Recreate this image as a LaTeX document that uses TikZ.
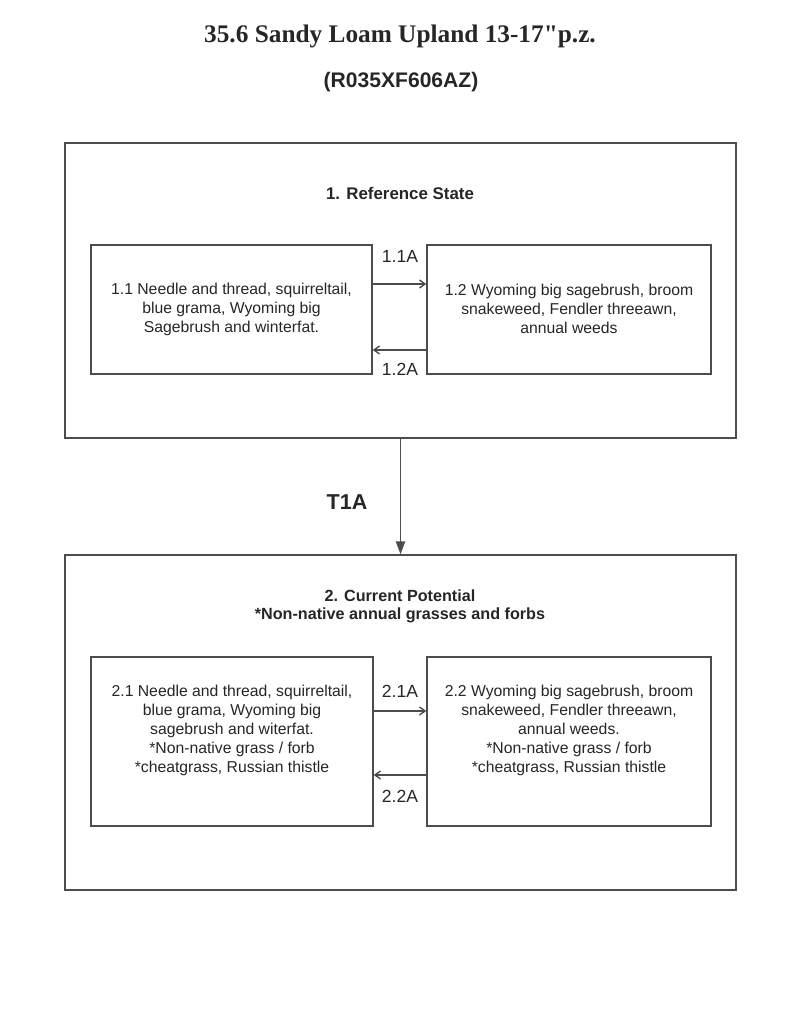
\documentclass[tikz,border=0pt]{standalone}
\usepackage{fontspec}
\setmainfont{Liberation Sans}
\newfontfamily\timesfont{Liberation Serif}
\usetikzlibrary{positioning,arrows.meta}

\begin{document}
\begin{tikzpicture}[x=0.025cm,y=0.025cm,line width=1pt,draw=black!70,text=black!85,
                    phase/.style={rectangle,draw=black!70,minimum width=16.775cm,inner sep=0pt},
                    statebox/.style={rectangle,draw=black!70,minimum height=3.225cm,inner sep=0pt},
                    boxtext/.style={align=center,font=\fontsize{11.2}{13.5}\selectfont},
                    arrowlabel/.style={font=\fontsize{12.5}{14}\selectfont},
                    pathway/.style={-{Straight Barb[length=1.4mm,width=2mm]}},
                    transition/.style={-{Triangle[length=3.2mm,width=2.3mm]}}]
    \useasboundingbox (0,0) rectangle (800,1019);
    \node (title) at (400,983) {\timesfont\bfseries\fontsize{18}{21}\selectfont 35.6 Sandy Loam Upland 13-17"p.z.};
    \node (code) at (401,937) {\bfseries\fontsize{15}{17}\selectfont (R035XF606AZ)};
    % reference state
    \node (ref) at (400.5,728.5) [phase,minimum height=7.375cm] {};
    \node (refname) at (400,826) [font=\bfseries\fontsize{12}{14}\selectfont] {1. Reference State};
    \node (s11) at (231.5,709.5) [statebox,minimum width=7.025cm] {};
    \node (s12) at (569,709.5) [statebox,minimum width=7.1cm] {};
    \node (t11) at (231.5,710) [boxtext] {1.1 Needle and thread, squirreltail,\\ blue grama, Wyoming big\\ Sagebrush and winterfat.};
    \node (t12) at (569,710) [boxtext] {1.2 Wyoming big sagebrush, broom\\ snakeweed, Fendler threeawn,\\ annual weeds};
    \draw [pathway] (s11.east |- 0,735) to (s12.west |- 0,735);
    \draw [pathway] (s12.west |- 0,669) to (s11.east |- 0,669);
    \node (l11a) at (400,763) [arrowlabel] {1.1A};
    \node (l12a) at (400,650) [arrowlabel] {1.2A};
    % current potential
    \node (cur) at (400.5,296.5) [phase,minimum height=8.375cm] {};
    \node (curname) at (400,413) [align=center,font=\bfseries\fontsize{11.5}{13}\selectfont] {2. Current Potential\\ *Non-native annual grasses and forbs};
    \node (s21) at (232,277.5) [statebox,minimum width=7.05cm,minimum height=4.225cm] {};
    \node (s22) at (569,277.5) [statebox,minimum width=7.1cm,minimum height=4.225cm] {};
    \node (t21) at (232,289) [boxtext] {2.1 Needle and thread, squirreltail,\\ blue grama, Wyoming big\\ sagebrush and witerfat.\\ *Non-native grass / forb\\ *cheatgrass, Russian thistle};
    \node (t22) at (569,289) [boxtext] {2.2 Wyoming big sagebrush, broom\\ snakeweed, Fendler threeawn,\\ annual weeds.\\ *Non-native grass / forb\\ *cheatgrass, Russian thistle};
    \draw [pathway] (s21.east |- 0,308) to (s22.west |- 0,308);
    \draw [pathway] (s22.west |- 0,244) to (s21.east |- 0,244);
    \node (l21a) at (400,328) [arrowlabel] {2.1A};
    \node (l22a) at (400,223) [arrowlabel] {2.2A};
    % transition
    \draw [transition] (ref.south) to (cur.north);
    \node (t1a) at (347,517) [font=\bfseries\fontsize{15.3}{17}\selectfont] {T1A};
\end{tikzpicture}
\end{document}
